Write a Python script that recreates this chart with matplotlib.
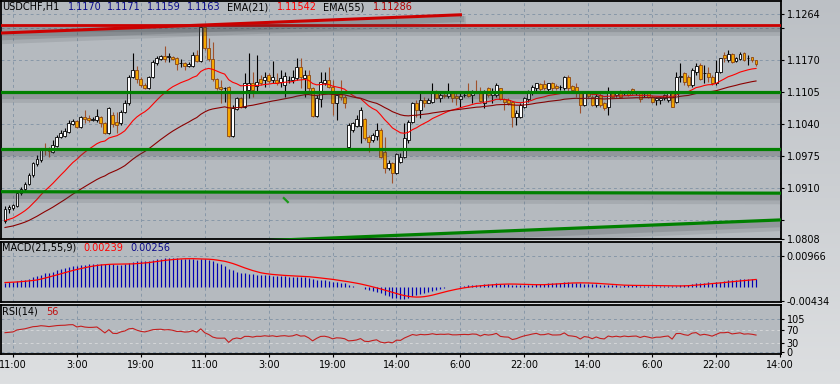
import numpy as np
import pandas as pd
import matplotlib
matplotlib.use('Agg')
import matplotlib.pyplot as plt
import matplotlib.patheffects as pe

# USDCHF H1 bars (bar 0 = first bar on the left)
opens = [1.0843, 1.0868, 1.0870, 1.0874, 1.0900, 1.0908, 1.0918, 1.0937, 1.0959, 1.0967,
         1.0990, 1.0990, 1.0983, 1.0996, 1.1014, 1.1016, 1.1024, 1.1040, 1.1046, 1.1034,
         1.1055, 1.1052, 1.1048, 1.1048, 1.1055, 1.1042, 1.1022, 1.1059, 1.1044, 1.1042,
         1.1065, 1.1083, 1.1136, 1.1150, 1.1132, 1.1119, 1.1113, 1.1136, 1.1164, 1.1172,
         1.1178, 1.1176, 1.1176, 1.1174, 1.1164, 1.1164, 1.1158, 1.1158, 1.1180, 1.1168,
         1.1237, 1.1195, 1.1172, 1.1132, 1.1115, 1.1113, 1.1115, 1.1016, 1.1071, 1.1093,
         1.1075, 1.1109, 1.1124, 1.1117, 1.1132, 1.1130, 1.1140, 1.1130, 1.1130, 1.1126,
         1.1119, 1.1130, 1.1130, 1.1134, 1.1156, 1.1134, 1.1140, 1.1113, 1.1057, 1.1091,
         1.1124, 1.1130, 1.1115, 1.1083, 1.1103, 1.1095, 1.0994, 1.1028, 1.1036, 1.1036,
         1.1050, 1.1014, 1.1008, 1.1016, 1.1028, 1.0983, 1.0951, 1.0961, 1.0941, 1.0963,
         1.0973, 1.1008, 1.1044, 1.1083, 1.1069, 1.1089, 1.1083, 1.1085, 1.1105, 1.1093,
         1.1099, 1.1097, 1.1105, 1.1097, 1.1091, 1.1099, 1.1105, 1.1099, 1.1105, 1.1105,
         1.1083, 1.1113, 1.1099, 1.1099, 1.1113, 1.1091, 1.1089, 1.1085, 1.1055, 1.1055,
         1.1075, 1.1091, 1.1103, 1.1113, 1.1121, 1.1121, 1.1111, 1.1124, 1.1117, 1.1115,
         1.1113, 1.1136, 1.1117, 1.1115, 1.1105, 1.1079, 1.1103, 1.1095, 1.1079, 1.1099,
         1.1083, 1.1075, 1.1103, 1.1099, 1.1105, 1.1103, 1.1105, 1.1111, 1.1103, 1.1103,
         1.1103, 1.1103, 1.1095, 1.1089, 1.1089, 1.1093, 1.1089, 1.1103, 1.1085, 1.1136,
         1.1144, 1.1136, 1.1119, 1.1146, 1.1160, 1.1144, 1.1144, 1.1136, 1.1124, 1.1146,
         1.1180, 1.1170, 1.1182, 1.1168, 1.1172, 1.1184, 1.1174, 1.1176, 1.1170]
highs = [1.0874, 1.0876, 1.0878, 1.0904, 1.0912, 1.0923, 1.0941, 1.0963, 1.0977, 1.0992,
         1.1002, 1.0994, 1.1008, 1.1018, 1.1028, 1.1032, 1.1048, 1.1050, 1.1048, 1.1057,
         1.1069, 1.1059, 1.1055, 1.1071, 1.1057, 1.1044, 1.1075, 1.1065, 1.1065, 1.1069,
         1.1089, 1.1140, 1.1184, 1.1158, 1.1136, 1.1124, 1.1138, 1.1170, 1.1178, 1.1180,
         1.1199, 1.1184, 1.1178, 1.1176, 1.1172, 1.1166, 1.1166, 1.1186, 1.1190, 1.1239,
         1.1239, 1.1215, 1.1207, 1.1134, 1.1130, 1.1115, 1.1117, 1.1079, 1.1095, 1.1095,
         1.1144, 1.1184, 1.1146, 1.1180, 1.1140, 1.1146, 1.1144, 1.1168, 1.1144, 1.1150,
         1.1146, 1.1138, 1.1150, 1.1174, 1.1174, 1.1150, 1.1150, 1.1115, 1.1099, 1.1146,
         1.1146, 1.1156, 1.1130, 1.1103, 1.1130, 1.1099, 1.1042, 1.1044, 1.1059, 1.1075,
         1.1052, 1.1018, 1.1022, 1.1042, 1.1032, 1.1014, 1.0967, 1.0963, 1.0981, 1.0981,
         1.1042, 1.1048, 1.1085, 1.1089, 1.1103, 1.1095, 1.1093, 1.1124, 1.1109, 1.1105,
         1.1105, 1.1124, 1.1107, 1.1103, 1.1103, 1.1103, 1.1124, 1.1109, 1.1130, 1.1115,
         1.1109, 1.1115, 1.1113, 1.1124, 1.1113, 1.1093, 1.1093, 1.1087, 1.1069, 1.1083,
         1.1095, 1.1109, 1.1119, 1.1124, 1.1124, 1.1130, 1.1124, 1.1126, 1.1121, 1.1119,
         1.1138, 1.1140, 1.1119, 1.1124, 1.1107, 1.1105, 1.1105, 1.1099, 1.1103, 1.1103,
         1.1085, 1.1115, 1.1107, 1.1103, 1.1109, 1.1107, 1.1109, 1.1113, 1.1107, 1.1105,
         1.1105, 1.1105, 1.1099, 1.1095, 1.1095, 1.1101, 1.1105, 1.1105, 1.1146, 1.1164,
         1.1146, 1.1140, 1.1154, 1.1164, 1.1164, 1.1160, 1.1156, 1.1140, 1.1170, 1.1174,
         1.1186, 1.1190, 1.1184, 1.1176, 1.1186, 1.1186, 1.1180, 1.1176, 1.1171]
lows = [1.0839, 1.0860, 1.0866, 1.0872, 1.0896, 1.0904, 1.0916, 1.0933, 1.0955, 1.0963,
        1.0977, 1.0973, 1.0981, 1.0994, 1.1012, 1.1014, 1.1022, 1.1038, 1.1032, 1.1032,
        1.1042, 1.1044, 1.1046, 1.1044, 1.1034, 1.1020, 1.1020, 1.1034, 1.1022, 1.1038,
        1.1063, 1.1079, 1.1134, 1.1124, 1.1115, 1.1111, 1.1111, 1.1134, 1.1160, 1.1170,
        1.1166, 1.1166, 1.1170, 1.1150, 1.1156, 1.1150, 1.1156, 1.1156, 1.1166, 1.1166,
        1.1190, 1.1168, 1.1128, 1.1109, 1.1083, 1.1085, 1.1014, 1.1014, 1.1069, 1.1073,
        1.1073, 1.1093, 1.1095, 1.1103, 1.1119, 1.1115, 1.1124, 1.1124, 1.1119, 1.1115,
        1.1095, 1.1124, 1.1124, 1.1130, 1.1113, 1.1095, 1.1105, 1.1055, 1.1055, 1.1075,
        1.1119, 1.1113, 1.1059, 1.1048, 1.1089, 1.1073, 1.0992, 1.1024, 1.1034, 1.1002,
        1.1008, 1.0983, 1.1004, 1.1008, 1.0971, 1.0941, 1.0947, 1.0921, 1.0939, 1.0961,
        1.0971, 1.1002, 1.1042, 1.1055, 1.1052, 1.1075, 1.1083, 1.1083, 1.1091, 1.1085,
        1.1093, 1.1093, 1.1085, 1.1079, 1.1075, 1.1095, 1.1095, 1.1083, 1.1103, 1.1085,
        1.1073, 1.1095, 1.1083, 1.1095, 1.1089, 1.1069, 1.1079, 1.1034, 1.1038, 1.1052,
        1.1073, 1.1085, 1.1099, 1.1103, 1.1105, 1.1109, 1.1105, 1.1107, 1.1109, 1.1109,
        1.1109, 1.1105, 1.1105, 1.1095, 1.1063, 1.1077, 1.1093, 1.1077, 1.1075, 1.1075,
        1.1069, 1.1059, 1.1093, 1.1095, 1.1093, 1.1099, 1.1097, 1.1099, 1.1099, 1.1085,
        1.1095, 1.1093, 1.1083, 1.1079, 1.1081, 1.1089, 1.1085, 1.1075, 1.1083, 1.1126,
        1.1119, 1.1115, 1.1115, 1.1140, 1.1130, 1.1124, 1.1126, 1.1119, 1.1119, 1.1144,
        1.1166, 1.1166, 1.1164, 1.1166, 1.1170, 1.1168, 1.1160, 1.1166, 1.1159]
closes = [1.0868, 1.0872, 1.0876, 1.0900, 1.0908, 1.0918, 1.0937, 1.0961, 1.0969, 1.0990,
          1.0988, 1.0985, 1.0998, 1.1014, 1.1022, 1.1026, 1.1042, 1.1046, 1.1034, 1.1055,
          1.1050, 1.1048, 1.1050, 1.1057, 1.1042, 1.1022, 1.1073, 1.1040, 1.1038, 1.1065,
          1.1083, 1.1136, 1.1150, 1.1132, 1.1119, 1.1113, 1.1136, 1.1166, 1.1174, 1.1178,
          1.1172, 1.1178, 1.1172, 1.1162, 1.1164, 1.1158, 1.1162, 1.1180, 1.1168, 1.1237,
          1.1195, 1.1172, 1.1132, 1.1113, 1.1111, 1.1113, 1.1016, 1.1073, 1.1093, 1.1075,
          1.1124, 1.1124, 1.1109, 1.1126, 1.1124, 1.1136, 1.1128, 1.1136, 1.1124, 1.1134,
          1.1138, 1.1130, 1.1136, 1.1156, 1.1136, 1.1140, 1.1113, 1.1057, 1.1093, 1.1126,
          1.1130, 1.1115, 1.1083, 1.1099, 1.1095, 1.1083, 1.1038, 1.1042, 1.1050, 1.1069,
          1.1012, 1.1004, 1.1018, 1.1028, 1.0973, 1.0951, 1.0961, 1.0941, 1.0979, 1.0973,
          1.1012, 1.1044, 1.1083, 1.1069, 1.1089, 1.1083, 1.1089, 1.1105, 1.1093, 1.1099,
          1.1097, 1.1103, 1.1093, 1.1093, 1.1097, 1.1099, 1.1097, 1.1105, 1.1103, 1.1087,
          1.1105, 1.1099, 1.1105, 1.1119, 1.1091, 1.1085, 1.1083, 1.1055, 1.1063, 1.1079,
          1.1093, 1.1103, 1.1115, 1.1124, 1.1111, 1.1113, 1.1124, 1.1113, 1.1113, 1.1115,
          1.1136, 1.1113, 1.1109, 1.1103, 1.1079, 1.1103, 1.1097, 1.1079, 1.1097, 1.1079,
          1.1073, 1.1105, 1.1095, 1.1103, 1.1095, 1.1105, 1.1099, 1.1103, 1.1105, 1.1091,
          1.1103, 1.1095, 1.1085, 1.1093, 1.1093, 1.1099, 1.1103, 1.1075, 1.1136, 1.1138,
          1.1126, 1.1119, 1.1150, 1.1158, 1.1132, 1.1144, 1.1136, 1.1124, 1.1146, 1.1174,
          1.1174, 1.1182, 1.1166, 1.1174, 1.1182, 1.1170, 1.1174, 1.1170, 1.1163]

# time axis: bar index under each label
time_ticks = [2, 18, 34, 50, 66, 82, 98, 114, 130, 146, 162, 178, 194]
time_labels = ['11:00', '3:00', '19:00', '11:00', '3:00', '19:00', '14:00',
               '6:00', '22:00', '14:00', '6:00', '22:00', '14:00']

price_ticks = [1.1264, 1.1235, 1.1170, 1.1105, 1.1040, 1.0975, 1.0910, 1.0845, 1.0808]
price_labels = ['1.1264', '', '1.1170', '1.1105', '1.1040', '1.0975', '1.0910', '', '1.0808']
macd_ticks = [0.00966, -0.00434]
rsi_ticks = [105, 70, 30, 0]

# indicator state just before the first visible bar
ema21_start = 1.0842
ema55_start = 1.0829
rsi_gain_start = 0.00042
rsi_loss_start = 0.00036

# drawn objects (bar index, price)
red_trend = ([-1, 114], [1.1225, 1.1262])
red_level = ([-1, 195], [1.1242, 1.1242])
green_levels = [1.1106, 1.0990]
green_low = ([-1, 195], [1.0903, 1.0900])
green_trend = ([60, 195], [1.0802, 1.0846])
green_dot = ([69.8, 70.8], [1.0890, 1.0882])

# header texts (as shown on the chart)
main_header = [('USDCHF,H1', 2, 'black'), ('1.1170', 68, '#0a0a8a'), ('1.1171', 107, '#0a0a8a'),
               ('1.1159', 147, '#0a0a8a'), ('1.1163', 187, '#0a0a8a'), ('EMA(21)', 227, 'black'),
               ('1.11542', 277, '#ff0000'), ('EMA(55)', 323, 'black'), ('1.11286', 373, '#b00000')]
macd_header = [('MACD(21,55,9)', 2, 'black'), ('0.00239', 83, '#ff0000'), ('0.00256', 130, '#0a0a8a')]
rsi_header = [('RSI(14)', 2, 'black'), ('56', 46, '#c01010')]


def ema(vals, n, start):
    a = 2.0 / (n + 1)
    e = start
    out = []
    for v in vals:
        e = e + a * (v - e)
        out.append(e)
    return np.array(out)


def rsi(vals, n, g, l, prev):
    out = []
    for v in vals:
        d = v - prev
        prev = v
        g = (g * (n - 1) + max(d, 0)) / n
        l = (l * (n - 1) + max(-d, 0)) / n
        out.append(100 - 100 / (1 + g / l))
    return np.array(out)


o = np.array(opens); h = np.array(highs); l = np.array(lows); c = np.array(closes)
idx = np.arange(len(c))
ema21 = ema(c, 21, ema21_start)
ema55 = ema(c, 55, ema55_start)
macd = ema21 - ema55
signal = pd.Series(macd).rolling(9, min_periods=1).mean().values
rsi14 = rsi(c, 14, rsi_gain_start, rsi_loss_start, opens[0])

W, H = 840, 384
fig = plt.figure(figsize=(W / 100, H / 100), dpi=100)

# light grey background with a soft vertical gradient
bg = fig.add_axes([0, 0, 1, 1], zorder=-10)
grad = np.linspace(0, 1, 256)[:, None, None]
top = np.array([188, 192, 197]) / 255
bot = np.array([221, 223, 225]) / 255
bg.imshow(top + (bot - top) * grad, aspect='auto', extent=[0, 1, 0, 1])
bg.axis('off')


def panel(y0, y1):
    return fig.add_axes([1 / W, 1 - y1 / H, 780 / W, (y1 - y0) / H])


ax = panel(1, 239)
axm = panel(242, 302)
axr = panel(305, 354)

grid_kw = dict(color='#8797a8', lw=0.7, ls=(0, (3, 3)))
for a in (ax, axm, axr):
    a.set_facecolor('#b5babf')
    a.set_xlim(-1, 194.25)
    a.set_xticks(time_ticks)
    for s in a.spines.values():
        s.set_color('black')
        s.set_linewidth(1.3)
    a.yaxis.tick_right()
    a.tick_params(axis='y', direction='out', length=2.5, width=0.8, pad=1.5,
                  labelsize=7, colors='black')
    for t in time_ticks:
        a.axvline(t, zorder=0.5, **grid_kw)

for a in (ax, axm):
    a.tick_params(axis='x', length=0, labelbottom=False)
axr.set_xticklabels(time_labels)
axr.tick_params(axis='x', length=2, pad=2, labelsize=7)

# ---- main price panel ----
ax.set_ylim(1.0807, 1.1290)
ax.set_yticks(price_ticks)
ax.set_yticklabels(price_labels)
for p in price_ticks:
    ax.axhline(p, zorder=0.5, **grid_kw)

bull = c >= o
wick_col = np.where(bull, 'black', '#a0522d')
ax.vlines(idx, l, h, colors=wick_col, lw=0.8, zorder=2)
body = np.maximum(np.abs(c - o), 0.00003)
ax.bar(idx[bull], body[bull], bottom=np.minimum(o, c)[bull], width=0.72,
       color='white', edgecolor='black', linewidth=0.6, zorder=2.5)
ax.bar(idx[~bull], body[~bull], bottom=np.minimum(o, c)[~bull], width=0.72,
       color='#f5a800', edgecolor='#8b4513', linewidth=0.6, zorder=2.5)

ax.plot(idx, ema21, color='#ff0000', lw=0.8, zorder=3)
ax.plot(idx, ema55, color='#8b0000', lw=0.8, zorder=3)

shadow = [pe.SimpleLineShadow(offset=(0.5, -4.5), shadow_color='#3a3f44', alpha=0.12, linewidth=7),
          pe.SimpleLineShadow(offset=(0.5, -3), shadow_color='#3a3f44', alpha=0.18, linewidth=4.5),
          pe.Normal()]
ax.plot(*red_level, color='#cc0000', lw=2.0, zorder=4, path_effects=shadow)
ax.plot(*red_trend, color='#cc0000', lw=2.2, zorder=4, path_effects=shadow)
for g in green_levels:
    ax.plot([-1, 195], [g, g], color='#008000', lw=2.3, zorder=4, path_effects=shadow)
ax.plot(*green_low, color='#008000', lw=2.3, zorder=4, path_effects=shadow)
ax.plot(*green_trend, color='#008000', lw=2.3, zorder=4, path_effects=shadow)
ax.plot(*green_dot, color='#1a9a1a', lw=1.6, zorder=4)

# ---- MACD panel ----
axm.set_ylim(-0.00465, 0.01401)
axm.set_yticks(macd_ticks)
axm.set_yticklabels(['0.00966', '-0.00434'])
for p in macd_ticks:
    axm.axhline(p, zorder=0.5, **grid_kw)
axm.vlines(idx, 0, macd, colors='#0000b4', lw=0.85, zorder=2)
axm.plot(idx, signal, color='#ff0000', lw=0.9, zorder=3)

# ---- RSI panel ----
axr.set_ylim(-4.8, 151)
axr.set_yticks(rsi_ticks)
axr.set_yticklabels([str(v) for v in rsi_ticks])
for p in (105, 0):
    axr.axhline(p, zorder=0.5, **grid_kw)
for p in (70, 30):
    axr.axhline(p, color='#d4d6d8', lw=0.7, ls=(0, (3, 3)), zorder=0.5)
axr.plot(idx, rsi14, color='#c41e1e', lw=0.8, zorder=3)

# headers
for items, y in ((main_header, 7), (macd_header, 248), (rsi_header, 312)):
    for txt, x, col in items:
        fig.text(x / W, 1 - y / H, txt, color=col, fontsize=7, ha='left', va='center')

fig.savefig('out.png', dpi=100)
